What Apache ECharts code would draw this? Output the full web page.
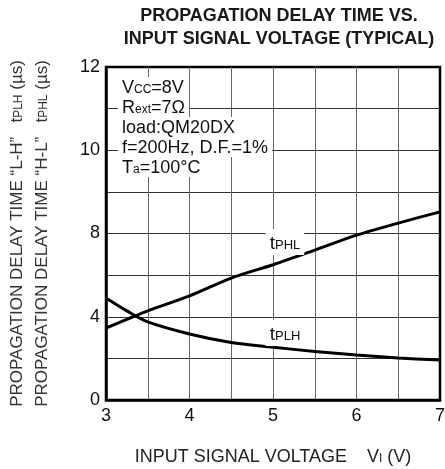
<!DOCTYPE html>
<html><head><meta charset="utf-8">
<script src="https://cdn.jsdelivr.net/npm/echarts@6/dist/echarts.min.js"></script>
<style>html,body{margin:0;padding:0;background:#fff}#c{width:445px;height:469px}</style>
</head><body><div id="c"></div>
<script>
// ---- data ----
const inputVoltage = [3, 3.25, 3.5, 4, 4.5, 5, 5.5, 6, 6.5, 7];          // V
const tPHL = [3.46, 3.87, 4.28, 5.0, 5.86, 6.5, 7.2, 7.92, 8.25, 8.52];      // µs
const tPLH = [4.9, 4.28, 3.75, 3.17, 2.76, 2.54, 2.33, 2.16, 2.02, 1.92];    // µs
const xTickLabels = [3, 4, 5, 6, 7];
const yTickLabels = [0, 4, 8, 10, 12];     // printed y labels
const yTickSlots  = [0, 2, 4, 6, 8];       // grid line each printed label sits on

// the printed y scale is piecewise: map a value to its grid-line position
function toSlot(v) {
  for (let i = 0; i < yTickLabels.length - 1; i++) {
    const a = yTickLabels[i], b = yTickLabels[i + 1];
    if (v <= b || i === yTickLabels.length - 2) {
      return yTickSlots[i] + (v - a) / (b - a) * (yTickSlots[i + 1] - yTickSlots[i]);
    }
  }
}

const FONT = '"Liberation Sans", Arial, Helvetica, sans-serif';
const chart = echarts.init(document.getElementById('c'), null, {renderer: 'canvas'});

const n = {fontFamily: FONT, fontSize: 18, lineHeight: 20, verticalAlign: 'bottom', fill: '#111', color: '#111'};
const s = {fontFamily: FONT, fontSize: 12, lineHeight: 14, padding: [0, 0, 1.5, 0], verticalAlign: 'bottom', fill: '#111', color: '#111'};

const boxLines = [
  '{n|V}{s|CC}{n|=8V}',
  '{n|R}{s|ext}{n|=7Ω}',
  '{n|load:QM20DX}',
  '{n|f=200Hz, D.F.=1%}',
  '{n|T}{s|a}{n|=100°C}'
];

const graphics = boxLines.map((t, i) => ({
  type: 'text', z: 10,
  style: {
    x: 118, y: 77 + 20 * i, text: t, align: 'left', verticalAlign: 'top',
    backgroundColor: '#fff', padding: [0, 4], rich: {n: n, s: s}
  }
}));
const tn = Object.assign({}, n, {fontSize: 19, lineHeight: 22});
const ts = Object.assign({}, s, {fontSize: 13, lineHeight: 15, padding: [0, 0, 1.5, 0]});
graphics.push({
  type: 'text', z: 10,
  style: {x: 285, y: 242, text: '{n|t}{s|PHL}', align: 'center', verticalAlign: 'middle',
    backgroundColor: '#fff', padding: [2, 4], rich: {n: tn, s: ts}}
});
graphics.push({
  type: 'text', z: 10,
  style: {x: 285, y: 333, text: '{n|t}{s|PLH}', align: 'center', verticalAlign: 'middle',
    backgroundColor: '#fff', padding: [2, 4], rich: {n: tn, s: ts}}
});

const option = {
  backgroundColor: '#fff',
  animation: false,
  title: {
    text: 'PROPAGATION DELAY TIME VS.\nINPUT SIGNAL VOLTAGE (TYPICAL)',
    left: 274, top: 0, textAlign: 'center',
    textStyle: {fontFamily: FONT, fontSize: 18, fontWeight: 'bold', lineHeight: 23, color: '#1a1a1a'}
  },
  grid: {left: 106, right: 5, top: 67, bottom: 69, containLabel: false, outerBoundsMode: 'none',
         show: true, borderColor: '#000', borderWidth: 2.5},
  xAxis: {
    type: 'value', min: 3, max: 7, interval: 0.5,
    name: '{n|INPUT SIGNAL VOLTAGE    V}{s|I}{n| (V)}',
    nameLocation: 'middle', nameGap: 46,
    nameTextStyle: {rich: {n: Object.assign({}, n, {color: '#222'}), s: Object.assign({}, s, {color: '#222'})}},
    axisLine: {show: true, lineStyle: {color: '#000', width: 2.5}},
    axisTick: {show: false},
    axisLabel: {
      margin: 7, color: '#111', fontFamily: FONT, fontSize: 18,
      formatter: v => { const r = Math.round(v); return (Math.abs(v - r) < 1e-6 && xTickLabels.includes(r)) ? String(r) : ''; }
    },
    splitLine: {show: true, showMinLine: false, showMaxLine: false, lineStyle: {color: '#666', width: 1}}
  },
  yAxis: {
    type: 'value', min: 0, max: 8, interval: 1,
    name: '{n|PROPAGATION DELAY TIME “L-H”   t}{s|PLH}{n| (µs)}\n{n|PROPAGATION DELAY TIME “H-L”   t}{s|PHL}{n| (µs)}',
    nameLocation: 'middle', nameRotate: 90, nameGap: 55,
    nameTextStyle: {lineHeight: 25, rich: {
      n: Object.assign({}, n, {fontSize: 17, lineHeight: 25, color: '#333'}),
      s: Object.assign({}, s, {fontSize: 12, lineHeight: 15, padding: [0, 0, 1.5, 0], color: '#333'})
    }},
    axisLine: {show: true, lineStyle: {color: '#000', width: 2.5}},
    axisTick: {show: false},
    axisLabel: {
      margin: 6, color: '#111', fontFamily: FONT, fontSize: 18,
      formatter: v => { const i = yTickSlots.indexOf(Math.round(v)); return (i >= 0 && Math.abs(v - Math.round(v)) < 1e-6) ? String(yTickLabels[i]) : ''; }
    },
    splitLine: {show: true, showMinLine: false, showMaxLine: false, lineStyle: {color: '#333', width: 1}}
  },
  graphic: graphics,
  series: [
    {name: 'tPHL', type: 'line', smooth: 0.3, showSymbol: false, z: 5,
     lineStyle: {color: '#000', width: 3},
     data: inputVoltage.map((x, i) => [x, toSlot(tPHL[i])])},
    {name: 'tPLH', type: 'line', smooth: 0.3, showSymbol: false, z: 5,
     lineStyle: {color: '#000', width: 3},
     data: inputVoltage.map((x, i) => [x, toSlot(tPLH[i])])}
  ]
};
chart.setOption(option);
</script>
</body></html>
